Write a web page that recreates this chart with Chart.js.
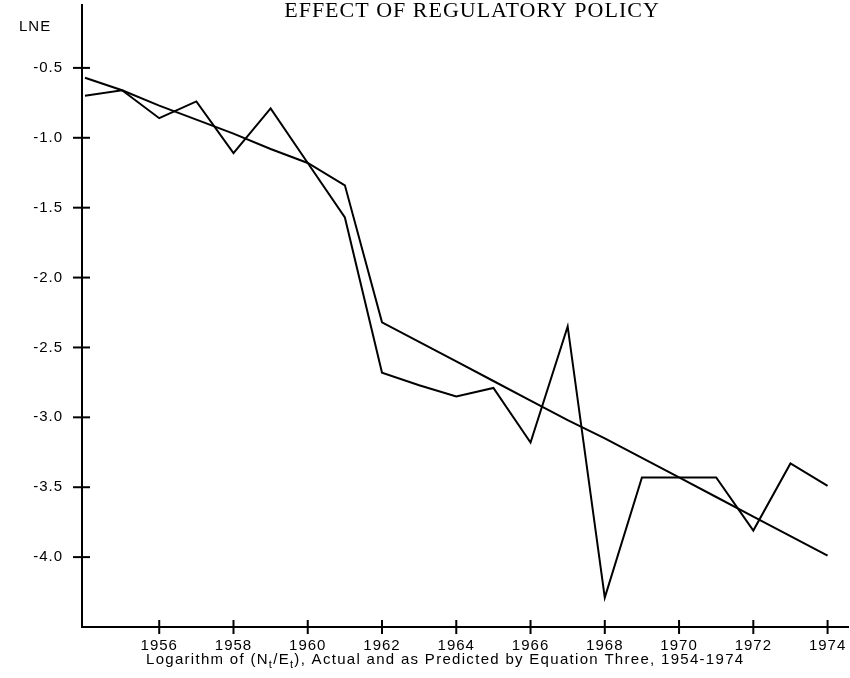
<!DOCTYPE html>
<html>
<head>
<meta charset="utf-8">
<script src="https://cdn.jsdelivr.net/npm/chart.js@4.4.1/dist/chart.umd.min.js"></script>
<style>
  html, body { margin: 0; padding: 0; background: #fff; }
</style>
</head>
<body>
<canvas id="graphique-lne" width="850" height="678"></canvas>
<script>
/** Données */
const years = [1954, 1955, 1956, 1957, 1958, 1959, 1960, 1961, 1962, 1963, 1964,
  1965, 1966, 1967, 1968, 1969, 1970, 1971, 1972, 1973, 1974];
const actual = [-0.70, -0.66, -0.86, -0.74, -1.11, -0.79, -1.18, -1.57, -2.68, -2.77, -2.85,
  -2.79, -3.18, -2.35, -4.29, -3.43, -3.43, -3.43, -3.81, -3.33, -3.49];
const predicted = [-0.57, -0.66, -0.77, -0.87, -0.97, -1.08, -1.18, -1.34, -2.32, -2.46, -2.60,
  -2.74, -2.88, -3.02, -3.15, -3.29, -3.43, -3.57, -3.71, -3.85, -3.99];
const yTicks = [-4.0, -3.5, -3.0, -2.5, -2.0, -1.5, -1.0, -0.5];
const xTicks = [1956, 1958, 1960, 1962, 1964, 1966, 1968, 1970, 1972, 1974];

const titre = 'EFFECT OF REGULATORY POLICY';
const axeY = 'LNE';
/** morceaux du titre de l'axe x : [texte, indice ?] */
const axeX = [['Logarithm of (N', false], ['t', true], ['/E', false], ['t', true],
  ['), Actual and as Predicted by Equation Three, 1954-1974', false]];

const sans = '"Liberation Sans", Arial, sans-serif';

/** le scan est un peu étiré : on espace un peu les lettres */
const espace = {
  id: 'espace',
  beforeDraw(chart) {
    chart.ctx.letterSpacing = '1px';
  }
};

/** petites croix sur les axes + textes */
const decor = {
  id: 'decor',
  afterDraw(chart) {
    const ctx = chart.ctx;
    const area = chart.chartArea;
    const x = chart.scales.x;
    const y = chart.scales.y;
    ctx.save();
    ctx.strokeStyle = '#000';
    ctx.lineWidth = 2;
    yTicks.forEach(v => {
      const py = y.getPixelForValue(v);
      ctx.beginPath();
      ctx.moveTo(area.left - 9, py);
      ctx.lineTo(area.left + 8, py);
      ctx.stroke();
    });
    xTicks.forEach(v => {
      const px = x.getPixelForValue(v);
      ctx.beginPath();
      ctx.moveTo(px, area.bottom - 7);
      ctx.lineTo(px, area.bottom + 7);
      ctx.stroke();
    });

    ctx.fillStyle = '#000';
    ctx.textBaseline = 'alphabetic';
    ctx.textAlign = 'center';
    ctx.letterSpacing = '1px';
    ctx.font = '22px "Liberation Serif", "Times New Roman", serif';
    ctx.fillText(titre, 472, 17);

    ctx.letterSpacing = '1px';
    ctx.font = '15px ' + sans;
    ctx.textAlign = 'left';
    ctx.fillText(axeY, 19, 31);

    /** titre de l'axe x avec indices */
    ctx.letterSpacing = '1.3px';
    let cx = 146;
    axeX.forEach(([txt, sub]) => {
      ctx.font = (sub ? '11px ' : '15px ') + sans;
      ctx.fillText(txt, cx, sub ? 668 : 664);
      cx += ctx.measureText(txt).width;
    });
    ctx.restore();
    ctx.letterSpacing = '0px';
  }
};

const data = {
  datasets: [
    {
      label: 'Actual',
      data: years.map((yr, i) => ({ x: yr, y: actual[i] })),
      borderColor: '#000',
      borderWidth: 2,
      pointRadius: 0,
      tension: 0,
      fill: false },
    {
      label: 'Predicted',
      data: years.map((yr, i) => ({ x: yr, y: predicted[i] })),
      borderColor: '#000',
      borderWidth: 2,
      pointRadius: 0,
      tension: 0,
      fill: false } ]};

const options = {
  responsive: false,
  animation: false,
  devicePixelRatio: 1,
  layout: { padding: { top: 5, right: 2, left: 0, bottom: 0 } },
  plugins: {
    legend: { display: false },
    tooltip: { enabled: false },
    title: { display: false } },
  scales: {
    x: {
      type: 'linear',
      min: 1953.92,
      max: 1974.55,
      afterBuildTicks: scale => { scale.ticks = xTicks.map(v => ({ value: v })); },
      afterFit: scale => { scale.height = 51; scale.paddingLeft = 0; scale.paddingRight = 0; },
      grid: { display: true, drawOnChartArea: false, drawTicks: false },
      border: { display: true, color: '#000', width: 2 },
      ticks: {
        color: '#000',
        padding: 10,
        maxRotation: 0,
        autoSkip: false,
        font: { family: sans, size: 15 },
        callback: v => String(v) } },
    y: {
      type: 'linear',
      min: -4.5,
      max: -0.05,
      afterBuildTicks: scale => { scale.ticks = yTicks.map(v => ({ value: v })); },
      afterFit: scale => { scale.width = 82; scale.paddingTop = 0; scale.paddingBottom = 0; },
      grid: { display: true, drawOnChartArea: false, drawTicks: false },
      border: { display: true, color: '#000', width: 2 },
      ticks: {
        color: '#000',
        padding: 19,
        autoSkip: false,
        font: { family: sans, size: 15 },
        callback: v => v.toFixed(1) } } }
};

const ctx = document.getElementById('graphique-lne').getContext('2d');
new Chart(ctx, { type: 'line', data, options, plugins: [espace, decor] });
</script>
</body>
</html>
